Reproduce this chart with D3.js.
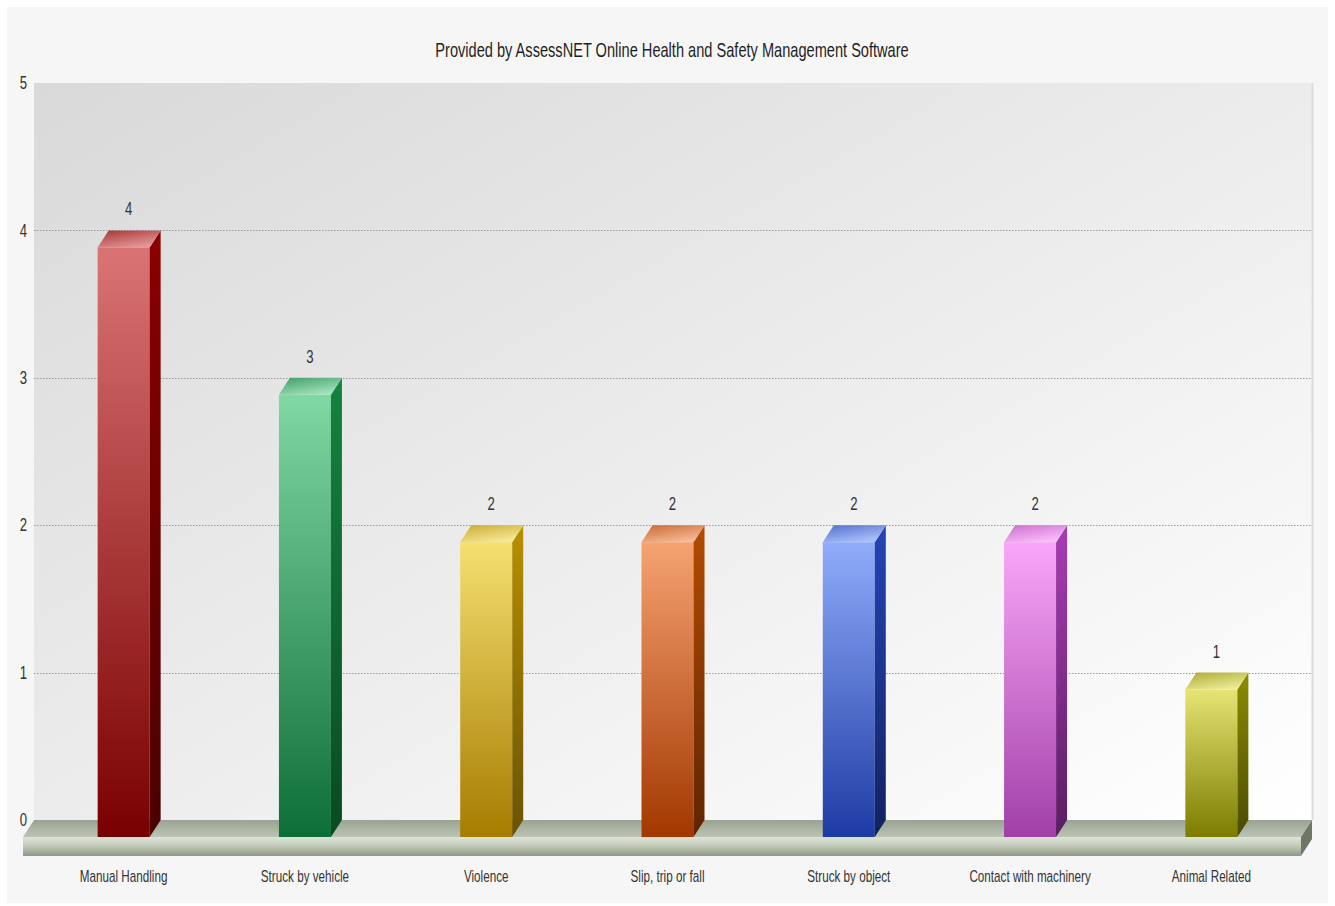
<!DOCTYPE html>
<html>
<head>
<meta charset="utf-8">
<script src="https://cdn.jsdelivr.net/npm/d3@7"></script>
<style>
  html, body { margin: 0; padding: 0; background: #ffffff; }
  svg { display: block; }
  text { font-family: "Liberation Sans", Arial, sans-serif; }
</style>
</head>
<body>
<svg id="chart" width="1335" height="906"></svg>
<script>
// Incident counts by category
const categories = ["Manual Handling", "Struck by vehicle", "Violence", "Slip, trip or fall",
                    "Struck by object", "Contact with machinery", "Animal Related"];
const counts = [4, 3, 2, 2, 2, 2, 1];
const yTicks = [0, 1, 2, 3, 4, 5];
const title = "Provided by AssessNET Online Health and Safety Management Software";

// Per-bar shading: light (front top), dark (front bottom), side face
const palette = [
  { light: "#da7474", dark: "#790000", side: "#8c0000", sideDark: "#4a0000" },
  { light: "#80d8a4", dark: "#0e6e37", side: "#14843f", sideDark: "#0a4a22" },
  { light: "#f5e070", dark: "#a67c00", side: "#b89000", sideDark: "#6a5200" },
  { light: "#f6a272", dark: "#a23800", side: "#b44c00", sideDark: "#5e2400" },
  { light: "#90acfa", dark: "#1d3ba4", side: "#2444b8", sideDark: "#12225e" },
  { light: "#faa6f8", dark: "#a040a8", side: "#a83cb4", sideDark: "#5a1e62" },
  { light: "#e6e474", dark: "#7c7c00", side: "#8c8c00", sideDark: "#4a4a00" }
];

const svg = d3.select("#chart");

// Back wall of the plot and 3D depth offset
const plot = { left: 34, right: 1312, top: 83, bottom: 820 };
const depth = { dx: 11, dy: 17 };
const barW = 52;
const narrow = 0.73;   // horizontal squeeze giving a condensed face

const y = d3.scaleLinear().domain([0, 5]).range([plot.bottom, plot.top]);
const x = d3.scaleBand().domain(categories).range([44, 1313]);

const defs = svg.append("defs");

// Condensed text placed at (tx, ty)
function label(parent, tx, ty, str, size, fill, anchor) {
  return parent.append("text")
    .attr("transform", `translate(${tx},${ty}) scale(${narrow},1)`)
    .attr("text-anchor", anchor || "middle")
    .attr("font-size", size)
    .attr("fill", fill)
    .text(str);
}

// Chart background
svg.append("rect").attr("x", 7).attr("y", 7).attr("width", 1321).attr("height", 896)
  .attr("fill", "#f6f6f6");

// Plot wall gradient (grey top-left to white bottom-right)
const wallGrad = defs.append("linearGradient").attr("id", "wall")
  .attr("x1", "0").attr("y1", "0").attr("x2", "1").attr("y2", "1");
wallGrad.append("stop").attr("offset", "0%").attr("stop-color", "#d9d9d9");
wallGrad.append("stop").attr("offset", "55%").attr("stop-color", "#eeeeee");
wallGrad.append("stop").attr("offset", "100%").attr("stop-color", "#ffffff");

svg.append("rect")
  .attr("x", plot.left).attr("y", plot.top)
  .attr("width", plot.right - plot.left).attr("height", plot.bottom - plot.top)
  .attr("fill", "url(#wall)");
svg.append("line")
  .attr("x1", plot.right + 0.5).attr("x2", plot.right + 0.5)
  .attr("y1", plot.top).attr("y2", plot.bottom)
  .attr("stroke", "#dcdcdc").attr("stroke-width", 2);

// Title
label(svg, 672, 57, title, 20, "#1e1e1e");

// Dotted grid lines
svg.append("g").selectAll("line")
  .data(yTicks.filter(t => t > 0 && t < 5))
  .join("line")
  .attr("x1", plot.left).attr("x2", plot.right)
  .attr("y1", d => Math.round(y(d)) + 0.5).attr("y2", d => Math.round(y(d)) + 0.5)
  .attr("stroke", "#9a9a9a")
  .attr("stroke-dasharray", "1.5,1.5");

// Y axis labels
const yAxis = d3.axisLeft(y).tickValues(yTicks).tickSize(0).tickPadding(0).tickFormat(d3.format("d"));
const yG = svg.append("g").attr("transform", `translate(${plot.left - 7},0)`).call(yAxis);
yG.select(".domain").remove();
yG.selectAll("text")
  .attr("font-size", 18).attr("fill", "#333")
  .attr("font-family", "'Liberation Sans', Arial, sans-serif")
  .attr("transform", `scale(${narrow},1)`);

// Floor slab
const floorTopGrad = defs.append("linearGradient").attr("id", "floorTop")
  .attr("x1", "0").attr("y1", "0").attr("x2", "0").attr("y2", "1");
floorTopGrad.append("stop").attr("offset", "0%").attr("stop-color", "#9aa292");
floorTopGrad.append("stop").attr("offset", "100%").attr("stop-color", "#bcc4b4");
const floorFrontGrad = defs.append("linearGradient").attr("id", "floorFront")
  .attr("x1", "0").attr("y1", "0").attr("x2", "0").attr("y2", "1");
floorFrontGrad.append("stop").attr("offset", "0%").attr("stop-color", "#dde4d6");
floorFrontGrad.append("stop").attr("offset", "45%").attr("stop-color", "#c4ccbc");
floorFrontGrad.append("stop").attr("offset", "100%").attr("stop-color", "#8e9686");

const y0 = y(0);
const slab = 19;
svg.append("polygon")
  .attr("points", [
    [plot.left, y0], [plot.right, y0],
    [plot.right - depth.dx, y0 + depth.dy], [plot.left - depth.dx, y0 + depth.dy]
  ].map(p => p.join(",")).join(" "))
  .attr("fill", "url(#floorTop)");

// Bars
const bars = svg.append("g").selectAll("g")
  .data(categories.map((c, i) => ({ cat: c, value: counts[i], col: palette[i], i })))
  .join("g");

bars.each(function(d) {
  const g = d3.select(this);
  const bx = x(d.cat) + x.bandwidth() / 2 - barW / 2;
  const fx = bx - depth.dx;
  const yt = y(d.value);

  const fg = defs.append("linearGradient").attr("id", "front" + d.i)
    .attr("x1", "0").attr("y1", "0").attr("x2", "0").attr("y2", "1");
  fg.append("stop").attr("offset", "0%").attr("stop-color", d.col.light);
  fg.append("stop").attr("offset", "100%").attr("stop-color", d.col.dark);

  const sg = defs.append("linearGradient").attr("id", "side" + d.i)
    .attr("x1", "0").attr("y1", "0").attr("x2", "0").attr("y2", "1");
  sg.append("stop").attr("offset", "0%").attr("stop-color", d.col.side);
  sg.append("stop").attr("offset", "100%").attr("stop-color", d.col.sideDark);

  const tg = defs.append("linearGradient").attr("id", "top" + d.i)
    .attr("x1", "0").attr("y1", "0").attr("x2", "0.6").attr("y2", "1");
  tg.append("stop").attr("offset", "0%").attr("stop-color", d3.interpolateRgb(d.col.dark, d.col.light)(0.45));
  tg.append("stop").attr("offset", "100%").attr("stop-color", d3.interpolateRgb(d.col.light, "#ffffff")(0.25));

  // front face
  g.append("rect")
    .attr("x", fx).attr("y", yt + depth.dy)
    .attr("width", barW).attr("height", y0 - yt)
    .attr("fill", `url(#front${d.i})`);
  // side face
  g.append("polygon")
    .attr("points", [
      [fx + barW, yt + depth.dy], [bx + barW, yt], [bx + barW, y0], [fx + barW, y0 + depth.dy]
    ].map(p => p.join(",")).join(" "))
    .attr("fill", `url(#side${d.i})`);
  // top face
  g.append("polygon")
    .attr("points", [
      [fx, yt + depth.dy], [bx, yt], [bx + barW, yt], [fx + barW, yt + depth.dy]
    ].map(p => p.join(",")).join(" "))
    .attr("fill", `url(#top${d.i})`);
  // value label
  label(g, fx + barW / 2 + 5, yt - 15, d.value, 18, "#333");
});

// Floor front and right side
svg.append("rect")
  .attr("x", plot.left - depth.dx).attr("y", y0 + depth.dy)
  .attr("width", plot.right - plot.left).attr("height", slab)
  .attr("fill", "url(#floorFront)");
svg.append("polygon")
  .attr("points", [
    [plot.right - depth.dx, y0 + depth.dy], [plot.right, y0],
    [plot.right, y0 + slab], [plot.right - depth.dx, y0 + depth.dy + slab]
  ].map(p => p.join(",")).join(" "))
  .attr("fill", "#6e7666");

// Category labels
const xLabels = svg.append("g");
categories.forEach(c => {
  label(xLabels, x(c) + x.bandwidth() / 2 - depth.dx, 882, c, 16, "#333");
});
</script>
</body>
</html>
